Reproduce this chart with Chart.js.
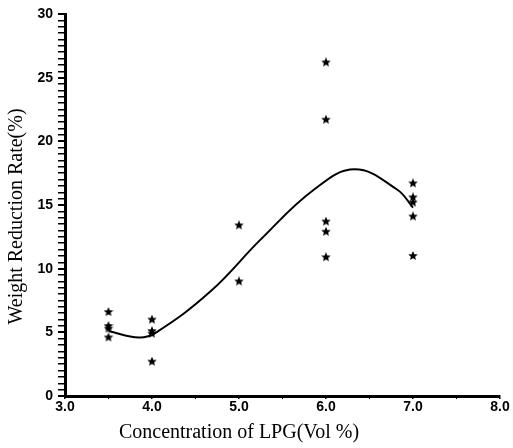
<!DOCTYPE html>
<html lang="en">
  <head>
    <meta charset="utf-8">
    <script src="https://cdn.jsdelivr.net/npm/chart.js"></script>
    <title>Weight Reduction Rate vs LPG</title>
    <style>
      html, body { margin: 0; padding: 0; background: #fff; }
      #chart { width: 513px; height: 448px; }
    </style>
  </head>
  <body>
    <div id="chart"><canvas id="cv" width="513" height="448"></canvas></div>
  </body>
  <script>
    // measured points (x = LPG vol %, y = weight reduction %)
    const lpgConc = [3.5, 3.5, 3.5, 3.5, 4.0, 4.0, 4.0, 4.0, 5.0, 5.0,
                     6.0, 6.0, 6.0, 6.0, 6.0, 7.0, 7.0, 7.0, 7.0, 7.0];
    const reduction = [6.6, 5.5, 5.3, 4.6, 6.0, 5.1, 4.9, 2.7, 13.4, 9.0,
                       26.2, 21.7, 13.7, 12.9, 10.9, 16.7, 15.6, 15.2, 14.1, 11.0];
    // fitted curve
    const fitConc = [3.5, 3.85, 4.05, 4.67, 5.25, 5.86, 6.33, 6.82, 7.0];
    const fitRate = [5.1, 4.6, 5.0, 8.2, 12.3, 16.2, 17.8, 16.2, 14.8];
    const yMajor = [0, 5, 10, 15, 20, 25, 30];
    const xMajor = [3, 4, 5, 6, 7, 8];
    const xTitle = 'Concentration of LPG(Vol %)';
    const yTitle = 'Weight Reduction Rate(%)';

    // filled five point star used as marker
    function makeStar(size) {
      const c = document.createElement('canvas');
      c.width = size; c.height = size;
      const g = c.getContext('2d');
      const cx = size / 2, cy = size / 2, ro = size / 2, ri = ro * 0.45;
      g.beginPath();
      for (let i = 0; i < 10; i++) {
        const r = i % 2 ? ri : ro;
        const a = -Math.PI / 2 + i * Math.PI / 5;
        g.lineTo(cx + r * Math.cos(a), cy + r * Math.sin(a));
      }
      g.closePath();
      g.fillStyle = '#000';
      g.fill();
      return c;
    }
    const star = makeStar(10);

    const points = lpgConc.map((x, i) => ({x: x, y: reduction[i]}));
    const curve = fitConc.map((x, i) => ({x: x, y: fitRate[i]}));

    const tickFont = {family: 'Liberation Sans', size: 14, weight: 'bold'};

    // axis titles sit a bit left / low of the plot centre in the original
    const axisTitles = {
      id: 'axisTitles',
      afterDraw(chart) {
        const ctx = chart.ctx, a = chart.chartArea;
        ctx.save();
        ctx.fillStyle = '#000';
        ctx.font = '20px "Liberation Serif"';
        ctx.textAlign = 'center';
        ctx.textBaseline = 'middle';
        ctx.fillText(xTitle, a.left + (a.right - a.left) * 0.4, 433);
        ctx.translate(17, a.top + (a.bottom - a.top) * 0.53);
        ctx.rotate(-Math.PI / 2);
        ctx.fillText(yTitle, 0, 0);
        ctx.restore();
      }
    };

    new Chart(document.getElementById('cv'), {
      type: 'scatter',
      data: {
        datasets: [
          {
            data: points,
            pointStyle: star,
            pointRadius: 5,
            showLine: false
          },
          {
            data: curve,
            showLine: true,
            borderColor: '#000',
            borderWidth: 2,
            tension: 0.4,
            pointRadius: 0,
            fill: false
          }
        ]
      },
      options: {
        responsive: false,
        animation: false,
        layout: {padding: {left: 0, right: 13, top: 14, bottom: 0}},
        plugins: {legend: {display: false}, tooltip: {enabled: false}},
        scales: {
          x: {
            type: 'linear',
            min: 3, max: 8,
            afterFit: s => { s.height = 52; },
            border: {color: '#000', width: 3},
            grid: {drawOnChartArea: false, color: '#000', tickLength: 3,
                   lineWidth: c => xMajor.includes(c.tick.value) ? 1.5 : 1},
            ticks: {
              stepSize: 0.5, autoSkip: false, maxRotation: 0, padding: 0,
              color: '#000', font: tickFont,
              callback: v => xMajor.includes(v) ? v.toFixed(1) : ''
            }
          },
          y: {
            min: 0, max: 30,
            afterFit: s => { s.width = 65; },
            border: {color: '#000', width: 3},
            grid: {drawOnChartArea: false, color: '#000', tickLength: 7,
                   lineWidth: c => yMajor.includes(c.tick.value) ? 2 : 1.5},
            ticks: {
              stepSize: 0.5, autoSkip: false, padding: 5,
              color: '#000', font: tickFont,
              callback: v => yMajor.includes(v) ? String(v) : ''
            }
          }
        }
      },
      plugins: [axisTitles]
    });
  </script>
</html>
